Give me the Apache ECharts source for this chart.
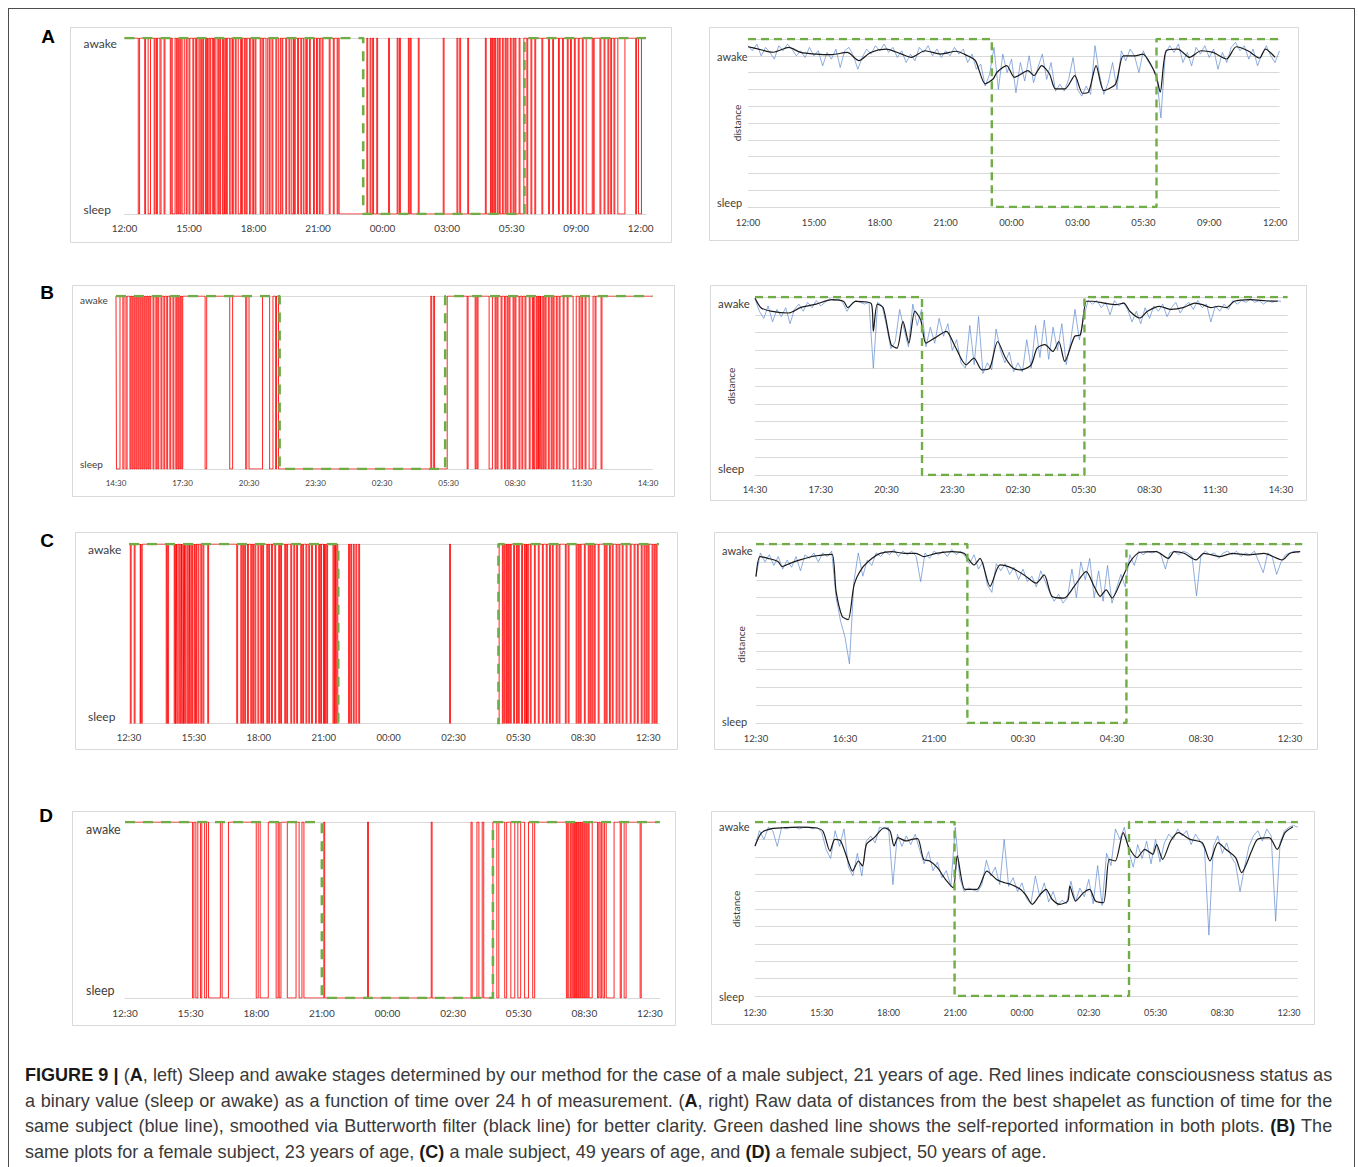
<!DOCTYPE html>
<html>
<head>
<meta charset="utf-8">
<script src="https://cdn.jsdelivr.net/npm/echarts@6/dist/echarts.min.js"></script>
<style>
html, body { margin: 0; padding: 0; background: #fff; overflow: hidden; }
#frame { position: absolute; left: 8px; top: 8px; width: 1347px; height: 1200px; border: 1.5px solid #4d4d4d; box-sizing: border-box; }
#chart { position: absolute; left: 0; top: 0; width: 1358px; height: 1050px; }
#caption { position: absolute; left: 25px; top: 1062px; width: 1376px; transform: scaleX(0.95); transform-origin: 0 0;
  font-family: "Liberation Sans", Arial, sans-serif; font-size: 19px; line-height: 25.5px; color: #3a3a3a; }
#caption .j { text-align: justify; text-align-last: justify; }
#caption b { color: #1a1a1a; }
</style>
</head>
<body>
<div id="frame"></div>
<div id="chart"></div>
<div id="caption">
  <div class="j"><b>FIGURE 9 |</b> (<b>A</b>, left) Sleep and awake stages determined by our method for the case of a male subject, 21 years of age. Red lines indicate consciousness status as</div>
  <div class="j">a binary value (sleep or awake) as a function of time over 24 h of measurement. (<b>A</b>, right) Raw data of distances from the best shapelet as function of time for the</div>
  <div class="j">same subject (blue line), smoothed via Butterworth filter (black line) for better clarity. Green dashed line shows the self-reported information in both plots. <b>(B)</b> The</div>
  <div>same plots for a female subject, 23 years of age, <b>(C)</b> a male subject, 49 years of age, and <b>(D)</b> a female subject, 50 years of age.</div>
</div>
<script>
// tick labels (one label per axis step, hours from start of recording)
const labelsA = ['12:00', '15:00', '18:00', '21:00', '00:00', '03:00', '05:30', '09:00', '12:00'];
const labelsB = ['14:30', '17:30', '20:30', '23:30', '02:30', '05:30', '08:30', '11:30', '14:30'];
const labelsC = ['12:30', '15:30', '18:00', '21:00', '00:00', '02:30', '05:30', '08:30', '12:30'];
const labelsCRight = ['12:30', '16:30', '21:00', '00:30', '04:30', '08:30', '12:30'];
const labelsD = ['12:30', '15:30', '18:00', '21:00', '00:00', '02:30', '05:30', '08:30', '12:30'];

// self-reported sleep (hours from start): [fell asleep, woke up]
const reportA = [11.1, 18.6];
const reportB = [7.38, 14.85];
const reportBRight = [7.62, 15.03];
const reportC = [9.67, 17.08];
const reportCRight = [9.5, 16.65];
const reportD = [9.0, 16.82];
const reportDRight = [8.97, 16.81];

// left plots: times (h) where the detected state flips, starting awake
const flipsA = [0.64, 0.70, 0.94, 0.98, 1.10, 1.21, 1.38, 1.42, 1.49, 1.53, 1.65, 1.70, 1.84, 1.88, 2.13, 2.17, 2.22, 2.35,
  2.41, 2.45, 2.50, 2.54, 2.59, 2.63, 2.68, 2.78, 2.87, 2.91, 3.00, 3.04, 3.18, 3.22, 3.31, 3.35, 3.42, 3.50, 3.55, 3.59,
  3.64, 3.68, 3.77, 3.81, 3.86, 3.92, 3.97, 4.01, 4.10, 4.14, 4.19, 4.25, 4.34, 4.38, 4.43, 4.47, 4.56, 4.62, 4.65, 4.69,
  4.74, 4.78, 4.89, 4.95, 5.02, 5.06, 5.15, 5.19, 5.29, 5.40, 5.44, 5.48, 5.57, 5.61, 5.66, 5.70, 5.81, 5.85, 5.94, 6.00,
  6.07, 6.11, 6.31, 6.35, 6.43, 6.47, 6.58, 6.66, 6.73, 6.77, 6.86, 6.90, 7.04, 7.08, 7.17, 7.25, 7.32, 7.36, 7.50, 7.54,
  7.65, 7.69, 7.78, 7.86, 7.90, 7.94, 8.05, 8.09, 8.20, 8.24, 8.33, 8.40, 8.46, 8.50, 8.60, 8.64, 8.79, 8.83, 8.93, 8.97,
  9.06, 9.10, 9.19, 9.23, 9.52, 9.56, 9.71, 9.75, 9.89, 9.93, 9.98,
  11.27, 11.31, 11.42, 11.46, 11.54, 11.58, 11.73, 11.77, 12.28, 12.32, 12.68, 12.72, 12.79, 12.83, 13.20, 13.24, 13.29, 13.33,
  13.66, 13.70, 14.82, 14.86, 15.46, 15.50, 15.59, 15.63, 15.96, 16.00, 16.78, 16.82, 17.02, 17.06, 17.11, 17.15, 17.21, 17.25,
  17.33, 17.37, 17.43, 17.47, 17.57, 17.61, 17.70, 17.74, 17.79, 17.83, 17.94, 17.98, 18.07, 18.11, 18.16, 18.20, 18.35, 18.39,
  18.57,
  18.71, 18.75, 18.90, 18.94, 19.08, 19.12, 19.41, 19.45, 19.72, 19.76, 19.91, 19.95, 20.18, 20.22, 20.37, 20.41, 20.59, 20.63,
  20.74, 20.78, 20.92, 20.96, 21.10, 21.14, 21.29, 21.33, 21.47, 21.75, 21.80, 21.84, 22.11, 22.15, 22.30, 22.34, 22.48, 22.52,
  22.61, 22.65, 22.76, 22.80, 22.94, 23.27, 23.77, 23.81, 23.90, 24.04];

const flipsB = [0.02, 0.18, 0.31, 0.36, 0.45, 0.50, 0.63, 0.67, 0.72, 0.76, 0.81, 0.85, 0.90, 0.94, 0.99, 1.03, 1.08, 1.12,
  1.17, 1.21, 1.26, 1.30, 1.35, 1.39, 1.44, 1.48, 1.53, 1.57, 1.67, 1.71, 1.80, 1.84, 1.89, 1.93, 2.03, 2.07, 2.16, 2.20,
  2.29, 2.33, 2.43, 2.47, 2.57, 2.61, 2.70, 2.74, 2.79, 2.83, 2.88, 2.92, 2.97, 3.01, 4.02, 4.09, 5.13, 5.26, 5.85, 5.90,
  6.00, 6.61, 6.93, 7.08, 7.20, 7.24, 7.33,
  14.20, 14.24, 14.33, 14.37, 14.94,
  15.84, 15.88, 16.20, 16.24, 16.29, 16.33, 16.83, 16.98, 17.10, 17.14, 17.19, 17.23, 17.37, 17.41, 17.52, 17.56, 17.64, 17.68,
  17.73, 17.77, 17.91, 17.95, 18.00, 18.04, 18.18, 18.22, 18.31, 18.35, 18.45, 18.49, 18.64, 18.68, 18.78, 18.82, 18.85, 18.89,
  18.96, 19.00, 19.05, 19.08, 19.12, 19.15, 19.18, 19.22, 19.27, 19.31, 19.36, 19.40, 19.50, 19.54, 19.63, 19.67, 19.72, 19.76,
  19.86, 19.90, 19.99, 20.03, 20.17, 20.21, 20.35, 20.39, 20.62, 20.76, 20.89, 20.93, 21.01, 21.05, 21.16, 21.20, 21.34, 21.52,
  21.61, 21.65, 21.88, 21.92];

const flipsC = [0.06, 0.10, 0.24, 0.28, 0.52, 0.55, 0.57, 0.61, 1.72, 1.76, 1.79, 1.83, 2.09, 2.13, 2.16, 2.19, 2.22, 2.26,
  2.31, 2.35, 2.40, 2.43, 2.46, 2.50, 2.53, 2.56, 2.58, 2.62, 2.68, 2.72, 2.77, 2.80, 2.82, 2.86, 2.90, 2.94, 3.01, 3.05,
  3.08, 3.12, 3.19, 3.23, 3.32, 3.36, 3.42, 3.46, 3.64, 3.68, 4.98, 5.02, 5.17, 5.21, 5.26, 5.30, 5.35, 5.39, 5.48, 5.52,
  5.63, 5.67, 5.72, 5.76, 5.82, 5.86, 5.96, 6.00, 6.09, 6.13, 6.18, 6.22, 6.37, 6.41, 6.46, 6.50, 6.59, 6.63, 6.74, 6.78,
  6.92, 6.96, 7.01, 7.05, 7.20, 7.24, 7.29, 7.33, 7.48, 7.52, 7.62, 7.66, 7.75, 7.79, 7.94, 7.98, 8.03, 8.07, 8.18, 8.22,
  8.31, 8.35, 8.44, 8.48, 8.62, 8.66, 8.77, 8.81, 8.86, 8.90, 8.99, 9.03, 9.05, 9.09, 9.14, 9.18, 9.43, 9.47, 9.51, 9.54,
  9.56, 9.60, 9.65,
  10.15, 10.19, 10.25, 10.29, 10.37, 10.41, 10.49, 10.53, 10.62, 10.66, 14.82, 14.86, 17.11,
  17.26, 17.30, 17.35, 17.39, 17.45, 17.49, 17.54, 17.58, 17.63, 17.67, 17.78, 17.82, 17.91, 17.95, 18.00, 18.04, 18.15, 18.19,
  18.28, 18.32, 18.37, 18.40, 18.42, 18.46, 18.55, 18.59, 18.74, 18.78, 18.92, 18.96, 19.11, 19.15, 19.29, 19.33, 19.44, 19.48,
  19.57, 19.61, 19.75, 19.79, 19.88, 19.92, 20.17, 20.21, 20.30, 20.34, 20.67, 20.71, 20.77, 20.81, 20.86, 20.90, 21.05, 21.09,
  21.23, 21.27, 21.32, 21.36, 21.41, 21.45, 21.51, 21.55, 21.69, 21.73, 21.97, 22.01, 22.06, 22.10, 22.21, 22.25, 22.34, 22.38,
  22.52, 22.56, 22.65, 22.69, 22.80, 22.84, 22.98, 23.02, 23.17, 23.21, 23.35, 23.39, 23.50, 23.54, 23.68, 23.72, 23.81, 23.85,
  23.91, 23.95, 24.00, 24.04, 24.18, 24.22, 24.28, 24.32, 24.37, 24.41];

const flipsD = [3.09, 3.15, 3.24, 3.33, 3.45, 3.51, 3.64, 3.73, 3.82, 4.36, 4.44, 4.73, 6.00, 6.09, 6.18, 6.55, 6.91, 7.00,
  7.05, 7.13, 7.42, 7.82, 7.96, 8.09, 8.18,
  9.09, 9.13, 11.09, 11.13, 14.00, 14.04, 15.82, 15.87, 16.09, 16.18, 16.33, 16.40, 16.82,
  17.00, 17.09, 17.36, 17.45, 17.64, 17.82, 17.96, 18.09, 18.27, 18.45, 18.64, 18.73, 20.18, 20.24, 20.29, 20.36, 20.40, 20.45,
  20.50, 20.55, 20.60, 20.64, 20.68, 20.73, 20.77, 20.82, 20.86, 20.91, 20.95, 21.00, 21.04, 21.09, 21.13, 21.18, 21.22, 21.36,
  21.60, 21.66, 21.72, 21.78, 21.85, 21.92, 22.00, 22.36, 22.64, 22.69, 22.82, 22.91, 23.55, 23.60];

// right plots: raw distance, one sample every 0.2 h (blue)
const rawStep = 0.2;
const rawA = [9.6, 9.3, 9.7, 9.0, 9.5, 9.2, 8.8, 9.6, 9.3, 9.7,
  9.4, 9.0, 9.3, 8.9, 9.5, 9.0, 9.3, 8.4, 9.2, 8.8,
  9.4, 8.3, 9.3, 9.5, 9.0, 8.2, 8.9, 9.4, 9.1, 9.6,
  9.3, 9.7, 9.2, 9.5, 8.9, 9.3, 8.6, 9.1, 8.7, 9.5,
  9.2, 9.6, 9.0, 9.4, 8.9, 9.3, 9.0, 9.5, 9.1, 9.4,
  8.6, 9.1, 8.2, 8.5, 7.2, 7.9, 9.5, 7.0, 9.1, 8.0,
  8.8, 6.8, 8.6, 7.5, 9.0, 7.4, 8.3, 9.1, 7.6, 8.6,
  6.9, 7.3, 6.9, 7.6, 8.9, 7.0, 6.6, 7.2, 6.7, 9.6,
  7.9, 6.7, 7.4, 8.6, 7.0, 9.3, 8.7, 9.4, 9.0, 8.0,
  9.3, 8.7, 8.3, 7.9, 5.3, 9.1, 9.6, 9.2, 9.7, 8.6,
  9.2, 8.4, 9.5, 9.1, 9.6, 8.9, 9.4, 8.2, 9.2, 8.6,
  9.5, 9.8, 9.3, 9.6, 8.8, 9.4, 8.4, 9.1, 9.6, 9.0,
  8.6, 9.3];
const rawB = [9.9, 9.2, 8.8, 9.5, 8.6, 9.3, 8.9, 9.4, 8.5, 9.3,
  9.6, 9.2, 9.7, 9.4, 9.8, 9.5, 9.7, 9.9, 9.8, 9.9,
  9.7, 9.2, 9.6, 9.8, 9.7, 9.6, 9.7, 6.0, 9.7, 9.5,
  8.4, 7.1, 7.5, 9.3, 8.2, 7.2, 9.6, 8.4, 9.3, 7.2,
  8.3, 7.4, 8.8, 7.8, 8.5, 7.0, 7.6, 6.3, 6.0, 8.4,
  6.2, 8.9, 5.7, 6.3, 5.9, 8.2, 7.0, 6.3, 6.9, 5.8,
  6.3, 5.8, 7.6, 6.0, 8.4, 6.6, 8.7, 6.5, 8.3, 7.0,
  8.5, 6.2, 7.5, 9.3, 7.6, 8.9, 9.8, 9.6, 9.8, 9.4,
  9.7, 9.0, 9.8, 9.5, 9.7, 9.3, 8.6, 9.2, 8.5, 9.4,
  8.8, 9.5, 9.2, 9.6, 8.9, 9.4, 9.7, 9.1, 9.5, 9.7,
  9.3, 9.8, 9.4, 9.6, 8.6, 9.5, 9.2, 9.6, 9.3, 9.8,
  9.6, 9.8, 9.7, 9.9, 9.7, 9.8, 9.6, 9.8, 9.7, 9.8,
  9.75];
const rawC = [8.2, 9.5, 9.0, 9.4, 8.8, 9.3, 8.6, 9.1, 8.7, 9.3,
  8.5, 9.4, 9.2, 9.5, 9.0, 9.5, 9.3, 9.6, 7.0, 5.7,
  4.8, 3.3, 7.9, 9.5, 8.2, 9.1, 8.8, 9.5, 9.3, 9.6,
  9.4, 9.7, 9.3, 9.6, 9.4, 9.6, 9.3, 7.9, 9.5, 9.2,
  9.6, 9.4, 9.6, 9.3, 9.7, 9.4, 9.6, 9.3, 8.9, 9.4,
  8.6, 9.0, 7.7, 7.3, 8.9, 8.5, 8.9, 8.3, 8.7, 8.0,
  8.6, 7.9, 8.2, 7.6, 8.5, 7.9, 7.3, 6.8, 7.2, 6.7,
  7.0, 8.6, 7.0, 9.0, 8.0, 9.2, 7.0, 8.5, 6.8, 8.8,
  6.7, 7.5, 8.3, 7.6, 9.4, 8.8, 9.6, 9.4, 9.6, 9.5,
  9.6, 9.4, 8.6, 9.5, 9.6, 9.4, 9.6, 9.5, 9.3, 7.1,
  9.4, 9.6, 9.4, 9.5, 9.2, 9.5, 9.6, 9.4, 9.6, 9.3,
  9.5, 9.4, 9.6, 9.0, 8.4, 9.5, 9.3, 8.3, 9.0, 9.4,
  9.5, 9.6, 9.5];
const rawD = [8.6, 9.5, 9.0, 9.7, 9.5, 8.6, 9.7, 9.6, 9.7, 9.7,
  9.6, 9.7, 9.7, 9.6, 9.7, 9.4, 8.4, 7.9, 9.5, 8.6,
  9.6, 7.4, 6.9, 8.2, 6.9, 8.9, 9.2, 8.8, 9.7, 9.6,
  9.7, 6.4, 9.3, 8.6, 9.2, 8.7, 9.3, 8.4, 7.6, 8.3,
  7.2, 7.7, 6.8, 7.2, 6.3, 9.7, 6.8, 6.0, 6.2, 6.1,
  6.0, 6.4, 7.8, 6.9, 7.4, 6.4, 9.0, 6.3, 6.8, 6.0,
  6.5, 5.6, 5.3, 6.9, 5.7, 6.5, 5.4, 6.0, 5.2, 5.5,
  5.3, 6.6, 5.4, 6.2, 5.7, 6.7, 5.3, 7.5, 5.2, 8.2,
  7.5, 9.6, 9.0, 9.7, 8.3, 7.4, 8.7, 7.9, 8.9, 7.6,
  9.0, 7.7, 8.8, 9.3, 9.0, 9.6, 9.2, 9.5, 8.7, 9.3,
  8.9, 8.5, 3.5, 8.6, 9.2, 8.2, 8.8, 8.0, 7.6, 6.0,
  7.4, 8.6, 9.2, 9.5, 8.9, 9.6, 9.2, 4.3, 8.8, 9.5,
  9.7, 9.8, 9.7];

// right plots: Butterworth-smoothed distance (black), read at these hours
const smoothTimeA = [0, 0.44, 1.15, 1.86, 2.39, 3.1, 3.81, 4.52, 5.05, 5.58, 6.29, 7.0, 7.44, 8.06, 8.77, 9.48, 10.0, 10.36,
  10.8, 11.16, 11.34, 11.78, 12.13, 12.75, 13.02, 13.37, 13.73, 14.0, 14.43, 14.88, 15.23, 15.5, 15.85, 16.2, 16.74, 17.09,
  17.62, 17.98, 18.33, 18.6, 18.77, 19.04, 19.57, 20.1, 20.63, 21.17, 21.79, 22.23, 22.76, 23.29, 23.56, 24.0];
const smoothA = [9.54, 9.41, 9.21, 9.5, 9.2, 9.1, 9.07, 9.2, 8.71, 9.2, 9.4, 9.1, 8.91, 9.3, 9.1, 9.27, 9.0, 8.7,
  7.33, 7.62, 8.02, 8.42, 7.72, 8.12, 7.82, 8.42, 7.92, 7.03, 7.03, 7.82, 6.77, 6.83, 8.42, 6.93, 7.33, 9.0,
  9.0, 9.1, 8.51, 7.72, 6.83, 9.3, 9.4, 8.91, 9.3, 9.2, 8.81, 9.54, 9.3, 8.87, 9.4, 8.91];
const smoothTimeB = [0, 0.27, 0.72, 1.53, 2.07, 2.79, 3.51, 4.05, 4.23, 4.59, 5.31, 5.40, 5.58, 5.85, 6.21, 6.48, 6.75, 7.02,
  7.29, 7.56, 7.80, 8.19, 8.73, 9.09, 9.63, 9.99, 10.35, 10.71, 11.07, 11.43, 11.79, 12.15, 12.6, 12.87, 13.23, 13.59,
  13.86, 14.13, 14.58, 14.85, 15.12, 15.39, 15.93, 16.47, 16.83, 17.1, 17.55, 17.91, 18.45, 18.99, 19.53, 20.07, 20.43,
  20.79, 21.15, 21.51, 21.87, 22.59, 23.31, 23.85];
const smoothB = [9.94, 9.4, 9.21, 9.1, 9.4, 9.6, 9.85, 9.75, 9.4, 9.75, 9.62, 8.07, 9.6, 9.4, 7.32, 7.13, 8.63, 7.41,
  9.21, 8.72, 7.41, 7.69, 8.07, 7.32, 6.19, 6.57, 5.91, 6.0, 7.5, 6.57, 6.0, 5.91, 6.19, 7.13, 7.32, 6.94,
  7.5, 6.38, 7.79, 7.88, 9.76, 9.76, 9.66, 9.57, 9.66, 9.2, 8.82, 9.2, 9.47, 9.3, 9.4, 9.66, 9.57,
  9.4, 9.48, 9.4, 9.76, 9.85, 9.79, 9.76];
const smoothTimeC = [0, 0.18, 0.54, 0.99, 1.17, 1.53, 1.98, 2.52, 3.06, 3.42, 3.6, 3.87, 4.14, 4.41, 4.77, 5.22, 5.58, 6.12,
  6.65, 7.19, 7.55, 8.09, 8.81, 9.35, 9.53, 9.8, 10.07, 10.52, 10.97, 11.51, 12.05, 12.59, 12.95, 13.31, 13.85, 14.3,
  14.84, 15.2, 15.47, 15.74, 16.0, 16.46, 16.82, 17.27, 17.99, 18.53, 18.8, 19.24, 19.78, 20.14, 20.86, 21.4, 22.12,
  22.84, 23.65, 24.0, 24.46];
const smoothC = [8.18, 9.3, 9.2, 9.02, 8.74, 8.92, 9.11, 9.3, 9.39, 9.42, 7.35, 5.96, 5.77, 7.72, 8.65, 9.2, 9.48, 9.57,
  9.48, 9.48, 9.3, 9.48, 9.57, 9.48, 9.2, 8.83, 9.2, 7.63, 8.83, 8.65, 8.27, 7.81, 8.27, 7.07, 6.98, 7.63,
  8.46, 7.63, 7.07, 7.44, 6.98, 8.09, 9.02, 9.54, 9.57, 9.2, 9.57, 9.48, 9.11, 9.48, 9.3, 9.48, 9.39,
  9.48, 9.11, 9.48, 9.57];
const smoothTimeD = [0, 0.3, 0.75, 1.28, 1.99, 2.70, 3.05, 3.37, 3.59, 3.85, 4.21, 4.38, 4.65, 4.83, 5.01, 5.36, 5.81, 6.07,
  6.25, 6.43, 6.78, 7.05, 7.31, 7.58, 7.85, 8.2, 8.56, 8.91, 9.09, 9.44, 9.98, 10.42, 10.86, 11.22, 11.49, 11.93, 12.2,
  12.46, 12.82, 13.08, 13.35, 13.7, 14.06, 14.15, 14.41, 14.77, 15.04, 15.3, 15.66, 15.92, 16.19, 16.55, 16.81, 17.17,
  17.52, 17.88, 18.05, 18.32, 18.68, 19.03, 19.56, 20.1, 20.45, 20.81, 21.16, 21.6, 21.87, 22.32, 22.58, 23.11, 23.47,
  23.82, 24.18];
const smoothD = [8.62, 9.39, 9.62, 9.67, 9.71, 9.67, 9.48, 8.33, 9.0, 8.91, 7.66, 7.18, 7.76, 7.47, 8.72, 9.1, 9.67, 9.48,
  8.62, 9.1, 8.91, 9.0, 9.04, 7.85, 7.76, 7.38, 6.7, 6.23, 8.05, 6.13, 6.13, 7.18, 6.7, 6.51, 6.42, 6.13, 5.75,
  5.27, 5.84, 6.13, 5.56, 5.27, 5.46, 6.32, 5.46, 5.94, 6.13, 5.46, 5.36, 7.85, 7.76, 9.39, 8.53, 7.95,
  8.43, 8.14, 8.72, 7.85, 8.91, 9.39, 9.0, 8.81, 7.76, 8.81, 8.43, 7.95, 7.09, 8.33, 9.0, 9.1, 8.43,
  9.39, 9.73];

const TEXT = '#404040';
const GRID = '#d9d9d9';
const GREEN = '#70ad47';
const FONT = 'Lato, "Open Sans", sans-serif';

// layout of the eight panels (pixels), kept apart from the data
const panels = [
  { kind: 'bin', letter: 'A', box: [70, 27, 601, 215], grid: [124.5, 38, 521.5, 176], xMax: 24.25, step: 3, labels: labelsA,
    flips: flipsA, report: reportA, low: 0, tick: 10, tickGap: 9, state: 12, stateGap: 41, awakeAt: 0.966, sleepAt: 0.023 },
  { kind: 'raw', box: [709, 27, 589, 213], grid: [748, 39, 531.5, 168], xMax: 24.2, step: 3, labels: labelsA,
    raw: rawA, smoothT: smoothTimeA, smooth: smoothA, report: reportA, tick: 9.5, tickGap: 10, state: 11, stateGap: 31,
    awakeAt: 8.93, sleepAt: 0.24, nameGap: 6, namePad: 0 },
  { kind: 'bin', letter: 'B', box: [72, 285, 602, 211], grid: [116, 296, 536.5, 173], xMax: 24.2, step: 3, labels: labelsB,
    flips: flipsB, report: reportB, low: 0, tick: 8, tickGap: 10, state: 10, stateGap: 36, awakeAt: 0.977, sleepAt: 0.029 },
  { kind: 'raw', box: [710, 285, 596, 215], grid: [755, 297, 532.6, 178], xMax: 24.3, step: 3, labels: labelsB,
    raw: rawB, smoothT: smoothTimeB, smooth: smoothB, report: reportBRight, tick: 9.5, tickGap: 9.5, state: 11.5, stateGap: 37,
    awakeAt: 9.61, sleepAt: 0.39, nameGap: 19, namePad: 0 },
  { kind: 'bin', letter: 'C', box: [75, 532, 602, 217], grid: [129, 544, 530, 179], xMax: 24.5, step: 3, labels: labelsC,
    flips: flipsC, report: reportC, low: -0.04, tick: 9.5, tickGap: 9, state: 12, stateGap: 41, awakeAt: 0.972, sleepAt: 0.039 },
  { kind: 'raw', box: [714, 532, 603, 217], grid: [756, 544, 546.2, 179], xMax: 24.55, step: 4, labels: labelsCRight,
    raw: rawC, smoothT: smoothTimeC, smooth: smoothC, report: reportCRight, tick: 9.5, tickGap: 10, state: 11, stateGap: 34,
    awakeAt: 9.66, sleepAt: 0.11, nameGap: 10, namePad: 22 },
  { kind: 'bin', letter: 'D', box: [72, 811, 603, 214], grid: [125, 822, 534.8, 176], xMax: 24.45, step: 3, labels: labelsD,
    flips: flipsD, report: reportD, low: 0, tick: 10, tickGap: 10, state: 12.5, stateGap: 39, awakeAt: 0.96, sleepAt: 0.04 },
  { kind: 'raw', box: [711, 811, 603, 213], grid: [755, 822, 542.9, 174], xMax: 24.4, step: 3, labels: labelsD,
    raw: rawD, smoothT: smoothTimeD, smooth: smoothD, report: reportDRight, tick: 9, tickGap: 11.5, state: 11, stateGap: 36,
    awakeAt: 9.77, sleepAt: 0.0, nameGap: 14, namePad: 0 }
];
const letterPos = { A: [48, 36], B: [47, 292], C: [47, 540], D: [46, 815] };

function stateLine(flips, xMax, low) {
  let s = 1;
  const pts = [[0, 1]];
  flips.forEach(t => {
    pts.push([t, s ? 1 : low]);
    s = 1 - s;
    pts.push([t, s ? 1 : low]);
  });
  pts.push([xMax, s ? 1 : low]);
  return pts;
}

function reportLine(rep, xMax, low, high) {
  return [[0, high], [rep[0], high], [rep[0], low], [rep[1], low], [rep[1], high], [xMax, high]];
}

const grids = [], xAxes = [], yAxes = [], series = [], graphics = [];

panels.forEach((p, i) => {
  grids.push({ left: p.grid[0], top: p.grid[1], width: p.grid[2], height: p.grid[3] });
  xAxes.push({
    gridIndex: i, type: 'value', min: 0, max: p.xMax, interval: p.step,
    axisLine: { show: true, lineStyle: { color: GRID, width: 1 } },
    axisTick: { show: false }, splitLine: { show: false },
    axisLabel: {
      margin: p.tickGap, fontSize: p.tick, color: TEXT, fontFamily: FONT,
      formatter: v => {
        const k = Math.round(v / p.step);
        return Math.abs(k * p.step - v) < 1e-6 ? (p.labels[k] || '') : '';
      }
    }
  });
  const isBin = p.kind === 'bin';
  const yAxis = {
    gridIndex: i, type: 'value', min: 0, max: isBin ? 1 : 10, interval: 1,
    axisLine: { show: false }, axisTick: { show: false },
    splitLine: { show: true, lineStyle: { color: GRID, width: 1 } },
    axisLabel: {
      customValues: [p.sleepAt, p.awakeAt], align: 'left', margin: p.stateGap,
      fontSize: p.state, color: TEXT, fontFamily: FONT,
      formatter: v => (v > (isBin ? 0.5 : 5) ? 'awake' : 'sleep')
    }
  };
  if (!isBin) {
    Object.assign(yAxis, {
      name: 'distance', nameLocation: 'middle', nameRotate: 90, nameGap: p.nameGap, nameMoveOverlap: false,
      nameTextStyle: { fontSize: 10, color: TEXT, fontFamily: FONT, padding: [0, p.namePad, 0, 0] }
    });
  }
  yAxes.push(yAxis);

  const base = { type: 'line', xAxisIndex: i, yAxisIndex: i, showSymbol: false, symbol: 'none', silent: true, animation: false };
  if (isBin) {
    series.push(Object.assign({}, base, {
      data: stateLine(p.flips, p.xMax, p.low),
      lineStyle: { color: '#ff0000', width: 1, opacity: 0.85 }, z: 2
    }));
    series.push(Object.assign({}, base, {
      data: reportLine(p.report, p.xMax, p.low, 1),
      lineStyle: { color: GREEN, width: 2.6, type: [10, 8] }, z: 3
    }));
  } else {
    series.push(Object.assign({}, base, {
      data: p.raw.map((v, k) => [+(k * rawStep).toFixed(2), v]),
      lineStyle: { color: '#5b87d0', width: 0.8, opacity: 0.85 }, z: 2
    }));
    series.push(Object.assign({}, base, {
      data: p.smoothT.map((t, k) => [t, p.smooth[k]]), smooth: 0.25,
      lineStyle: { color: '#1a1a1a', width: 1.2 }, z: 3
    }));
    series.push(Object.assign({}, base, {
      data: reportLine(p.report, p.xMax, 0, 10),
      lineStyle: { color: GREEN, width: 2.4, type: [8, 5] }, z: 4
    }));
  }

  graphics.push({
    type: 'rect', silent: true, z: -10,
    shape: { x: p.box[0] + 0.5, y: p.box[1] + 0.5, width: p.box[2], height: p.box[3] },
    style: { fill: 'none', stroke: GRID, lineWidth: 1 }
  });
  if (p.letter) {
    const lp = letterPos[p.letter];
    graphics.push({
      type: 'text', silent: true, x: lp[0], y: lp[1],
      style: { text: p.letter, fill: '#000', font: 'bold 19px "Liberation Sans", Arial, sans-serif', align: 'center', verticalAlign: 'middle' }
    });
  }
});

const chart = echarts.init(document.getElementById('chart'), null, { renderer: 'svg' });
chart.setOption({
  animation: false,
  backgroundColor: 'transparent',
  grid: grids,
  xAxis: xAxes,
  yAxis: yAxes,
  series: series,
  graphic: { elements: graphics }
});
</script>
</body>
</html>
